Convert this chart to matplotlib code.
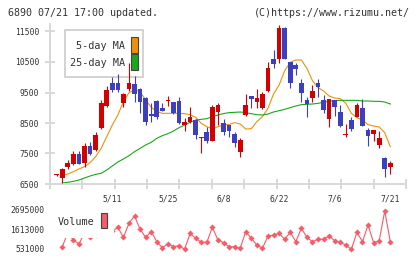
import matplotlib
matplotlib.use("Agg")
import matplotlib.pyplot as plt
import numpy as np
from matplotlib.patches import Rectangle

plt.rcParams["font.family"] = ["DejaVu Sans Mono"]

# ---- data (61 trading days) ----
opens = [6780, 6690, 7060, 7160, 7500, 7200, 7750, 7610, 8320, 9060,
         9820, 9800, 9170, 9610, 9780, 9610, 9330, 8800, 9230, 9000,
         9210, 9200, 9220, 8430, 8540, 8600, 8000, 8200, 7920, 8870,
         8490, 8430, 8140, 7560, 8760, 9390, 9200, 8980, 9550, 10590,
         10590, 11600, 10490, 10400, 9800, 9250, 9330, 9820, 9250, 8630,
         9250, 8850, 8120, 8600, 8710, 8980, 8270, 8140, 7780, 7360,
         7070]
highs = [6820, 7010, 7290, 7580, 7580, 7830, 7880, 8200, 9250, 9710,
         10000, 10110, 9500, 10460, 10040, 9640, 9360, 9170, 9250, 9170,
         9390, 9200, 9340, 8650, 9010, 8640, 8050, 8360, 9090, 9150,
         8630, 8430, 8220, 8000, 9450, 9390, 9610, 9530, 10510, 10890,
         11710, 11640, 10490, 10460, 9930, 9340, 9750, 9930, 9420, 9280,
         9250, 9090, 8470, 8690, 9150, 9280, 8330, 8270, 8250, 7400,
         7270]
lows = [6750, 6520, 7000, 7120, 7150, 7070, 7450, 7580, 8300, 9010,
        9530, 9530, 9010, 9560, 9200, 8840, 8420, 8540, 8620, 8880,
        9060, 8800, 8470, 8250, 8490, 7970, 7500, 7830, 7920, 8430,
        8110, 8030, 7720, 7400, 8730, 8980, 8980, 8950, 9530, 10290,
        10460, 10590, 9640, 10070, 9200, 8710, 9200, 9360, 8840, 8380,
        8730, 8380, 8050, 8250, 8690, 8400, 7750, 7920, 7690, 6740,
        6830]
closes = [6785, 6980, 7200, 7480, 7170, 7750, 7500, 8110, 9140, 9580,
          9580, 9580, 9450, 9820, 9450, 9200, 8540, 8730, 8710, 8900,
          9220, 8820, 8510, 8530, 8690, 8110, 8020, 7920, 9010, 9090,
          8220, 8250, 7860, 7940, 9090, 9290, 9310, 9450, 10290, 10430,
          11600, 10590, 9800, 10260, 9470, 9120, 9550, 9690, 8930, 9280,
          9040, 8400, 8130, 8300, 9090, 8400, 8070, 8270, 8020, 7000,
          7200]
ma5 = [np.nan, 6784, 6828, 6904, 6992, 7068, 7199, 7396, 7669, 8052,
       8434, 8762, 9199, 9495, 9582, 9527, 9254, 9014, 8872, 8817,
       8817, 8817, 8817, 8806, 8773, 8686, 8489, 8380, 8314, 8380,
       8434, 8456, 8511, 8467, 8303, 8314, 8544, 8708, 8981, 9451,
       9746, 10210, 10489, 10566, 10566, 10292, 9888, 9658, 9549, 9385,
       9320, 9298, 9145, 8817, 8675, 8598, 8445, 8402, 8369, 8183,
       7724]
ma25 = [np.nan, 6533, 6555, 6587, 6631, 6697, 6762, 6817, 6850, 6959,
        7090, 7221, 7320, 7429, 7560, 7669, 7779, 7866, 7997, 8085,
        8150, 8238, 8347, 8434, 8522, 8598, 8620, 8642, 8708, 8762,
        8810, 8839, 8850, 8861, 8839, 8806, 8773, 8762, 8795, 8861,
        8904, 8948, 9003, 9057, 9101, 9112, 9123, 9145, 9178, 9210,
        9232, 9243, 9243, 9243, 9243, 9221, 9221, 9210, 9210, 9188,
        9123]
volume = [np.nan, 658e3, 1400e3, 1022e3, 804e3, 1400e3, 1167e3, 1300e3, 2000e3, 1800e3,
          1500e3, 1713e3, 1167e3, 1931e3, 2331e3, 1604e3, 1167e3, 1477e3, 931e3, 604e3,
          804e3, 658e3, 713e3, 513e3, 1386e3, 1113e3, 895e3, 895e3, 1713e3, 1022e3,
          875e3, 656e3, 656e3, 569e3, 1474e3, 1114e3, 749e3, 569e3, 1240e3, 1294e3,
          1386e3, 1060e3, 1441e3, 929e3, 1659e3, 1168e3, 929e3, 1060e3, 1060e3, 1240e3,
          983e3, 896e3, 749e3, 515e3, 1441e3, 929e3, 1839e3, 874e3, 983e3, 2602e3,
          929e3]
date_pos = [10, 20, 30, 40, 50, 60]
date_labels = ["5/11", "5/25", "6/8", "6/22", "7/6", "7/21"]
price_ticks = [6500, 7500, 8500, 9500, 10500, 11500]
vol_ticks = [531000, 1613000, 2695000]

UP = "#d40000"
DOWN = "#3c40c0"
ORANGE = "#f0900a"
GREEN = "#18a818"
VOLC = "#f85a66"
AXC = "#d8d8d8"
TXT = "#333333"

W, H = 420, 259
fig = plt.figure(figsize=(W / 100, H / 100), dpi=100)


def px_axes(left, top, right, bottom):
    return fig.add_axes([left / W, 1 - bottom / H, (right - left) / W, (bottom - top) / H])


def px_rect(ax, box, x0, y0, x1, y1, **kw):
    # box = (left, top, right, bottom) of the axes in pixels
    l, t, r, b = box
    rect = Rectangle(((x0 - l) / (r - l), (b - y1) / (b - t)),
                     (x1 - x0) / (r - l), (y1 - y0) / (b - t),
                     transform=ax.transAxes, clip_on=False, **kw)
    ax.add_patch(rect)
    return rect


def px_text(ax, box, x, y, s, **kw):
    l, t, r, b = box
    ax.text((x - l) / (r - l), (b - y) / (b - t), s, transform=ax.transAxes, **kw)


idx = np.arange(len(closes))
o = np.array(opens, float)
c = np.array(closes, float)
up = c >= o
xlim = ((50 - 56.7) / 5.56, (406 - 56.7) / 5.56)

# ---- price panel ----
main_box = (50, 24, 406, 184)
ax = px_axes(*main_box)
ax.set_xlim(*xlim)
ax.set_ylim(6500, 6500 + 160 / 30.5 * 1000)

colors = np.where(up, UP, DOWN)
ax.vlines(idx, lows, highs, colors=colors, lw=0.8, zorder=3)
body = np.maximum(np.abs(c - o), 33)
ax.bar(idx, body, bottom=np.minimum(o, c), width=0.84, color=colors, lw=0, zorder=4)
ax.plot(idx, ma5, color=ORANGE, lw=0.8, zorder=2.5)
ax.plot(idx, ma25, color=GREEN, lw=0.8, zorder=2.5)

for side in ["top", "right"]:
    ax.spines[side].set_visible(False)
for side in ["left", "bottom"]:
    ax.spines[side].set_color(AXC)
    ax.spines[side].set_linewidth(1.4)

ax.set_yticks(price_ticks, [str(v) for v in price_ticks])
ax.set_xticks(np.linspace(xlim[0], xlim[1], 12), [""] * 12)
ax.set_xticks(date_pos, date_labels, minor=True)
ax.tick_params(which="major", direction="inout", length=7, width=1.4, color=AXC,
               labelsize=5.8, labelcolor=TXT, pad=4.2)
ax.tick_params(axis="x", which="minor", length=0, pad=7.5, labelsize=5.8, labelcolor=TXT)

# MA legend box (candles draw over it)
px_rect(ax, main_box, 65, 30, 143.3, 76.7, facecolor="white", edgecolor="#cccccc", lw=1.2, zorder=1.5)
px_text(ax, main_box, 125, 46, "5-day MA", ha="right", va="center", fontsize=7.3, color=TXT, zorder=1.6)
px_text(ax, main_box, 125, 62.5, "25-day MA", ha="right", va="center", fontsize=7.3, color=TXT, zorder=1.6)
px_rect(ax, main_box, 131, 37.5, 137.5, 53, facecolor=ORANGE, edgecolor="#444444", lw=0.8, zorder=1.6)
px_rect(ax, main_box, 131, 54.5, 137.5, 70, facecolor=GREEN, edgecolor="#444444", lw=0.8, zorder=1.6)

# ---- volume panel ----
vol_box = (50, 205, 406, 253)
axv = px_axes(*vol_box)
axv.set_xlim(*xlim)
per_px = 1082000 / 19.85
axv.set_ylim(531000 - 4 * per_px, 531000 + 44 * per_px)
axv.plot(idx, volume, color=VOLC, lw=0.8, marker="D", ms=3.1, mew=0, zorder=2)
for s in axv.spines.values():
    s.set_visible(False)
axv.set_xticks([])
axv.set_yticks(vol_ticks, [str(v) for v in vol_ticks])
axv.tick_params(axis="y", length=0, pad=4, labelsize=5.8, labelcolor=TXT)

px_rect(axv, vol_box, 54, 205, 114, 237.5, facecolor="white", edgecolor="none", zorder=3)
px_text(axv, vol_box, 94.5, 222.3, "Volume", ha="right", va="center", fontsize=7.3, color=TXT, zorder=4)
px_rect(axv, vol_box, 101, 212.7, 107.3, 228.3, facecolor=VOLC, edgecolor="#444444", lw=0.8, zorder=4)

# ---- header ----
fig.text(8 / W, 1 - 13 / H, "6890 07/21 17:00 updated.", ha="left", va="center",
         fontsize=7.2, color=TXT)
fig.text(410 / W, 1 - 13 / H, "(C)https://www.rizumu.net/", ha="right", va="center",
         fontsize=7.2, color=TXT)

fig.savefig("out.png", dpi=100)
